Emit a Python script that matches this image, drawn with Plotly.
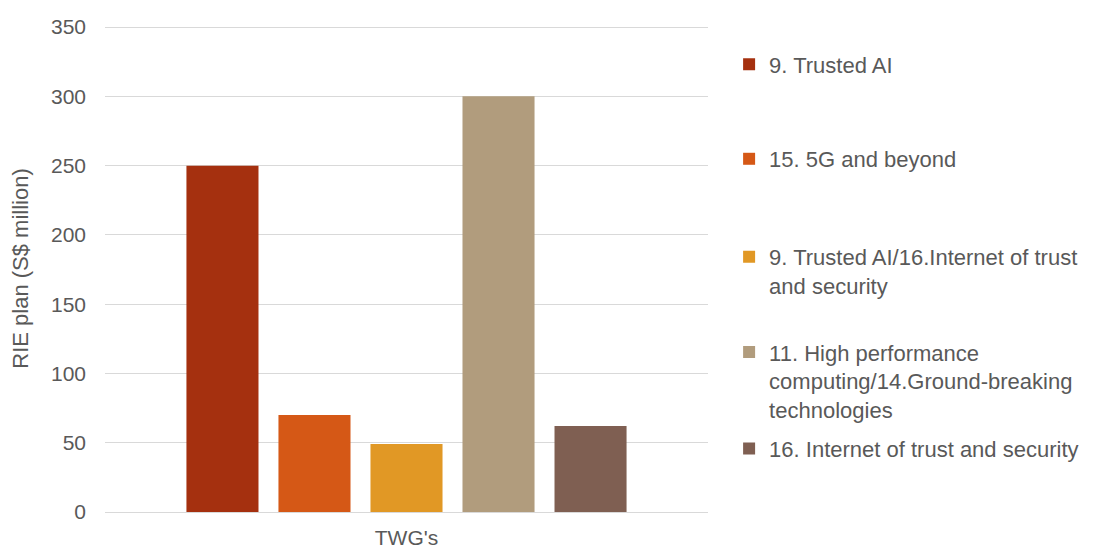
import plotly.graph_objects as go

categories = ["TWG's"]
series_names = [
    "9. Trusted AI",
    "15. 5G and beyond",
    "9. Trusted AI/16.Internet of trust<br>and security",
    "11. High performance<br>computing/14.Ground-breaking<br>technologies",
    "16. Internet of trust and security",
]
series_values = [250, 70, 49, 300, 62]
colors = ["#A5300F", "#D55816", "#E19825", "#B19C7D", "#7F5F52"]
y_ticks = [0, 50, 100, 150, 200, 250, 300, 350]

FONT = "Liberation Sans, Arial, sans-serif"
GREY = "#595959"

# legend positions (paper coords)
legend_y = [0.962, 0.768, 0.567, 0.371, 0.173]

fig = go.Figure()
for i, (name, val, col) in enumerate(zip(series_names, series_values, colors)):
    lg = "legend" if i == 0 else f"legend{i+1}"
    fig.add_trace(go.Bar(x=categories, y=[val], name=name, marker_color=col,
                         marker_line_width=0, legend=lg, showlegend=True))

layout_legends = {}
for i, yy in enumerate(legend_y):
    key = "legend" if i == 0 else f"legend{i+1}"
    layout_legends[key] = dict(x=1.035, y=yy, xanchor="left", yanchor="top",
                               font=dict(family=FONT, size=22, color=GREY),
                               bgcolor="rgba(0,0,0,0)", valign="top",
                               itemclick=False, itemdoubleclick=False)

fig.update_layout(
    width=1112, height=551,
    margin=dict(l=105, r=404, t=25, b=39, autoexpand=False),
    paper_bgcolor="white", plot_bgcolor="white",
    barmode="group", bargap=0.237, bargroupgap=0.217,
    showlegend=True,
    font=dict(family=FONT, size=21, color=GREY),
    **layout_legends,
)
fig.update_yaxes(range=[0, 351.5], tickvals=y_ticks, showgrid=True,
                 gridcolor="#D9D9D9", gridwidth=1, zeroline=False,
                 showline=False, ticks="", ticklabelstandoff=18,
                 automargin=False,
                 tickfont=dict(family=FONT, size=21, color=GREY),
                 title=dict(text="RIE plan (S$ million)",
                            font=dict(family=FONT, size=22, color=GREY),
                            standoff=16))
fig.update_xaxes(showline=True, linecolor="#D9D9D9", linewidth=1, ticks="",
                 ticklabelstandoff=7, automargin=False,
                 tickfont=dict(family=FONT, size=21, color=GREY))

fig.write_html("out.html")
